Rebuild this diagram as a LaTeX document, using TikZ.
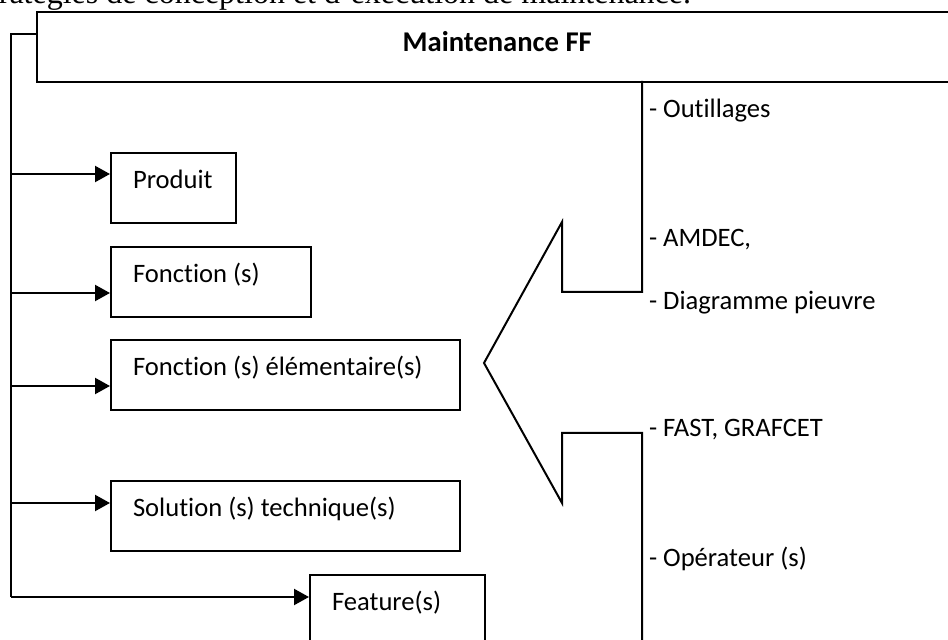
\documentclass[tikz,border=0pt]{standalone}
\usepackage{fontspec}
\setmainfont[Ligatures={TeX,NoCommon}]{Carlito}
\newfontfamily\serifbody{Liberation Serif}
\usetikzlibrary{arrows.meta}
\newcommand\boxtext[2]{\makebox[#1][l]{#2}}
\begin{document}
\begin{tikzpicture}[x=0.5pt,y=-0.5pt,
  line width=1pt,
  every node/.style={inner sep=0pt},
  txt/.style={font=\fontsize{13.3}{15}\selectfont},
  box/.style={draw, rectangle, anchor=north west, inner xsep=11pt, inner ysep=0pt,
    text height=18pt, text depth=17pt, txt},
  arr/.style={-{Triangle[length=7.5pt,width=8pt]}, line width=1.1pt},
  tool/.style={anchor=base west, txt}]
\useasboundingbox (0,0) rectangle (948,640);
\clip (0,0) rectangle (948,640);

% heading line of the surrounding text
\node[anchor=base east, font=\serifbody\fontsize{16}{18}\selectfont] (head) at (692,4)
  {stratégies de conception et d’exécution de maintenance.};

% main box
\node[draw, anchor=north west, minimum width=460pt, inner ysep=0pt,
  text height=19.5pt, text depth=15.5pt, line width=1.2pt,
  font=\bfseries\fontsize{14.3}{16}\selectfont] (mf) at (36,11) {Maintenance FF};

% levels
\node[box] (prod) at (110,152) {\boxtext{40.5pt}{Produit}};
\node[box] (fct)  at (110,246) {\boxtext{78pt}{Fonction (s)}};
\node[box] (fel)  at (110,339) {\boxtext{152.5pt}{Fonction (s) élémentaire(s)}};
\node[box] (sol)  at (110,480) {\boxtext{152.5pt}{Solution (s) technique(s)}};
\node[box, text depth=19pt] (feat) at (309,574) {\boxtext{65.5pt}{Feature(s)}};

% trunk on the left
\coordinate (t0) at (11,34);
\coordinate (t5) at (11,597);
\draw (mf.north west |- t0) -- (t0) -- (t5);

% arrow end points on the boxes
\coordinate (eprod) at ([yshift=-11pt]prod.north west);
\coordinate (efct)  at ([yshift=-23.5pt]fct.north west);
\coordinate (efel)  at ([yshift=-23.5pt]fel.north west);
\coordinate (esol)  at ([yshift=-11.5pt]sol.north west);
\coordinate (efeat) at ([yshift=-11.5pt]feat.north west);

\foreach \e in {eprod,efct,efel,esol,efeat}
  \draw[arr] (t0 |- \e) -- (\e);

% notched arrow pointing left
\draw (642,81) -- (642,292) -- (562,292) -- (562,222) -- (484,363)
  -- (562,503) -- (562,433) -- (642,433) -- (642,660);

% tools list
\node[tool] (o1) at (648,118) {- Outillages};
\node[tool] (o2) at (648,247) {- AMDEC,};
\node[tool] (o3) at (648,310) {- Diagramme pieuvre};
\node[tool] (o4) at (648,437) {- FAST, GRAFCET};
\node[tool] (o5) at (648,567) {- Opérateur (s)};
\end{tikzpicture}
\end{document}
